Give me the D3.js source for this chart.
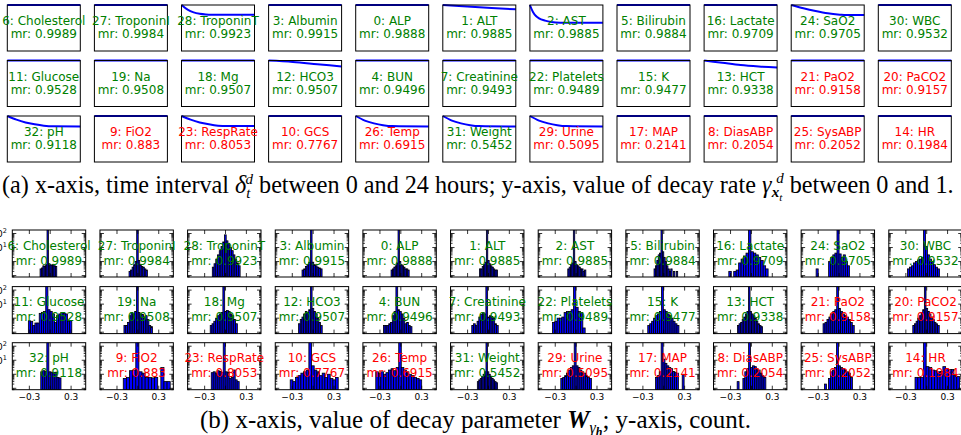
<!DOCTYPE html>
<html>
<head>
<meta charset="utf-8">
<script src="https://cdn.jsdelivr.net/npm/d3@7/dist/d3.min.js"></script>
<style>
  body { margin: 0; background: #fff; }
  svg { display: block; }
</style>
</head>
<body>
<svg id="fig" width="961" height="435"></svg>
<script>
// feature order (same for both halves), mean decay rate "mr"
const features = [
  "6: Cholesterol", "27: TroponinI", "28: TroponinT", "3: Albumin", "0: ALP", "1: ALT",
  "2: AST", "5: Bilirubin", "16: Lactate", "24: SaO2", "30: WBC",
  "11: Glucose", "19: Na", "18: Mg", "12: HCO3", "4: BUN", "7: Creatinine",
  "22: Platelets", "15: K", "13: HCT", "21: PaO2", "20: PaCO2",
  "32: pH", "9: FiO2", "23: RespRate", "10: GCS", "26: Temp", "31: Weight",
  "29: Urine", "17: MAP", "8: DiasABP", "25: SysABP", "14: HR"
];
const meanRate = [
  0.9989, 0.9984, 0.9923, 0.9915, 0.9888, 0.9885, 0.9885, 0.9884, 0.9709, 0.9705, 0.9532,
  0.9528, 0.9508, 0.9507, 0.9507, 0.9496, 0.9493, 0.9489, 0.9477, 0.9338, 0.9158, 0.9157,
  0.9118, 0.883, 0.8053, 0.7767, 0.6915, 0.5452, 0.5095, 0.2141, 0.2054, 0.2052, 0.1984
];
// labels drawn in red
const redFeatures = ["21: PaO2", "20: PaCO2", "9: FiO2", "23: RespRate", "10: GCS", "26: Temp",
  "29: Urine", "17: MAP", "8: DiasABP", "25: SysABP", "14: HR"];

// (a) decay curves: [hours, gamma]
const flat = [[0, 1], [24, 1]];
const decayCurves = [
  flat, flat,
  [[0, 1], [2, 0.9], [4, 0.84], [6, 0.81], [8, 0.795], [10, 0.79], [24, 0.79]],
  flat, flat,
  [[0, 1], [8, 0.97], [16, 0.935], [24, 0.905]],
  [[0, 1], [1, 0.85], [2, 0.76], [3, 0.71], [5, 0.66], [7, 0.63], [10, 0.615], [24, 0.615]],
  flat, flat,
  [[0, 1], [4, 0.93], [8, 0.87], [12, 0.82], [16, 0.79], [18, 0.78], [24, 0.78]],
  flat,
  flat, flat, flat,
  [[0, 1], [8, 0.97], [16, 0.92], [24, 0.87]],
  flat, flat, flat, flat,
  [[0, 1], [6, 0.95], [12, 0.9], [18, 0.87], [24, 0.85]],
  flat, flat,
  [[0, 1], [3, 0.92], [6, 0.86], [9, 0.82], [12, 0.79], [15, 0.775], [24, 0.77]],
  flat,
  [[0, 1], [3, 0.92], [6, 0.86], [9, 0.82], [12, 0.79], [15, 0.78], [24, 0.78]],
  flat,
  [[0, 1], [3, 0.9], [6, 0.84], [9, 0.8], [12, 0.78], [24, 0.77]],
  [[0, 1], [3, 0.9], [6, 0.84], [9, 0.8], [12, 0.78], [24, 0.77]],
  [[0, 1], [3, 0.9], [6, 0.84], [9, 0.8], [12, 0.78], [24, 0.77]],
  flat, flat, flat, flat
];

// (b) histograms of W_gamma_h: bin range and bar heights per feature (log axis)
const histLo = [
  -0.146, -0.127, -0.19, -0.16, -0.14, -0.13, -0.12, -0.14, -0.325, -0.33, -0.277,
  -0.314, -0.2, -0.22, -0.21, -0.25, -0.24, -0.34, -0.23, -0.2, -0.23, -0.2,
  -0.136, -0.21, -0.205, -0.33, -0.36, -0.16, -0.22, -0.12, -0.205, -0.21, -0.168
];
const histHi = [
  0.094, 0.137, 0.21, 0.128, 0.12, 0.13, 0.14, 0.2, 0.24, 0.15, 0.183,
  0.31, 0.21, 0.17, 0.13, 0.16, 0.14, 0.13, 0.218, 0.16, 0.218, 0.18,
  0.155, 0.51, 0.225, 0.36, 0.3, 0.13, 0.22, 0.32, 0.235, 0.25, 0.472
];
const histCounts = [
  [0.3, 0.35, 0.5, 0.45, 0.6, 200, 0.7, 0.6, 0.55, 0.6, 0.5, 0.45],
  [0.2, 0.25, 0.4, 0.6, 1.0, 200, 1.2, 0.6, 0.45, 0.4, 0.3, 0.25],
  [0.4, 0.7, 1.5, 3, 6, 12, 25, 80, 30, 20, 10, 6, 3, 1.5, 0.8, 0.5],
  [0.25, 0.3, 0.45, 0.6, 0.9, 200, 0.9, 0.6, 0.5, 0.4, 0.35, 0.3],
  [0.25, 0.3, 0.4, 0.5, 0.8, 200, 1, 0.6, 0.5, 0.4, 0.3, 0.3, 0.25],
  [0.3, 0.3, 0.45, 0.6, 0.9, 200, 1.2, 0.7, 0.5, 0.4, 0.3, 0.25, 0.25],
  [0.3, 0.4, 0.6, 0.8, 200, 1, 0.6, 0.5, 0.4, 0.3, 0.3, 0.2, 0.25],
  [0.3, 0.5, 1.2, 3, 4, 200, 5, 2, 1, 0.5, 0.3, 0.2, 0.3, 0, 0.2, 0, 0.2],
  [0.2, 0, 0.2, 0.25, 0.8, 1.5, 2.5, 4, 200, 5, 4, 3, 2, 1.2, 0.5, 0.3],
  [0.3, 0, 0, 0, 0, 0, 1, 2, 3, 4, 200, 3.5, 2, 3, 1, 0.5],
  [0.3, 0.4, 0.5, 0.8, 1.0, 1.3, 1.5, 2, 200, 12, 3, 1.5, 1, 0.6, 0.4, 0.3],
  [0.65, 0.6, 0.3, 0.45, 0.45, 2.2, 2.6, 3, 200, 4, 3, 2, 0.5, 1.5, 2, 2.5, 2.2, 2, 0.6, 0.65],
  [0.3, 0.3, 0.5, 1.5, 2.5, 2, 3, 200, 2.5, 2, 1.8, 1.2, 1.5, 0.8, 0.3, 0.25],
  [0.3, 0.4, 0.6, 1, 1.5, 2, 2.5, 200, 3, 3.5, 3, 2, 1.5, 0.8, 0.4],
  [0.4, 0.8, 1.2, 2, 3, 2.5, 4, 200, 5, 3, 2, 1, 0.5, 0.3],
  [0.3, 0.3, 0.3, 0.4, 0.5, 1.5, 3, 200, 4, 3, 2, 1, 0.4, 0.5, 0.3, 0.25],
  [0.3, 0.4, 0.3, 0.6, 1.2, 1.8, 2.5, 2, 200, 1.2, 1.5, 1.3, 1, 0.4, 0.3],
  [0.5, 0.6, 1, 1, 1.2, 2.5, 3, 3, 4, 200, 6, 3, 2.5, 0.2],
  [0.3, 0.4, 0.6, 1, 1.5, 2, 3, 200, 4, 3, 2, 1.5, 1, 0.6, 0.4, 0.3],
  [0.3, 0.4, 0.5, 0.8, 1.2, 2, 3, 200, 3, 2, 1.5, 1, 0.6, 0.4, 0.3, 0.25],
  [0.4, 0.5, 0.8, 1.2, 2, 3, 4, 200, 5, 3, 2, 1.5, 1.2, 0.8, 0.5, 0.3],
  [0.3, 0.4, 0.6, 1, 1.5, 2.5, 4, 200, 5, 3, 2, 1.2, 0.8, 0.5, 0.4, 0.3],
  [1.5, 1.8, 1.6, 200, 1.5, 1.4, 1.3, 1.4, 0.6, 0.55],
  [0.5, 0.6, 1.8, 2, 200, 1.5, 1.2, 0.6, 0.6, 0.55, 0.6, 0, 3, 0.3, 0.3, 0],
  [1.3, 1.5, 1.2, 1.8, 1.6, 1.4, 200, 1.5, 1.4, 0.5, 0.6, 2, 0.4, 0.3, 0],
  [0.4, 0.3, 0.6, 0.8, 1.2, 1.5, 2, 200, 4, 2, 1.5, 0.8, 1.2, 0.6, 1, 0.5, 0.4, 0.6],
  [1.5, 1.2, 1.5, 1.0, 1.3, 2, 2.5, 1.8, 3, 200, 3, 2, 1.5, 1, 0.8, 0.6, 0.5, 0.4],
  [0.3, 0.4, 0.5, 0.7, 1, 1.5, 200, 1.5, 1, 0.7, 0.5, 0.4, 0.3, 0.25],
  [0.5, 0.6, 0.8, 1.2, 2, 3, 4, 200, 4, 3, 2, 1.5, 1.2, 0.8, 0.6, 0.5],
  [0.6, 0.8, 1.5, 200, 12, 6, 4, 3, 2.5, 1.6, 1.4, 1.2, 0, 0, 1.0, 0],
  [0.3, 0, 0, 0.5, 1.5, 2.5, 200, 3, 4, 3.5, 2.5, 2, 1.2, 0.8, 0.6, 0],
  [0.2, 0, 0.5, 1.5, 2, 3, 200, 4, 3, 2.5, 2, 1.5, 1.2, 0.6, 0, 0],
  [0.6, 0.6, 0.6, 200, 3.5, 3, 2, 1.8, 1.5, 1.6, 3.5, 2.5, 2.2, 2.2, 0.8, 0.7]
];
const histTicks = [-0.3, 0.3];
const histTickMarks = [-0.3, 0, 0.3];

const nCols = 11;
const svg = d3.select("#fig");

// ---------- (a) decay curves ----------
const aLeft = 7.3, aStep = 87.1, aW = 73, aH = 46, aTops = [5, 60.5, 116];
const tx = d3.scaleLinear().domain([0, 24]).range([0, aW]);
const ty = d3.scaleLinear().domain([0, 1]).range([aH, 0]);
const curveLine = d3.line().x(d => tx(d[0])).y(d => ty(d[1])).curve(d3.curveMonotoneX);

features.forEach((name, i) => {
  const col = i % nCols, row = Math.floor(i / nCols);
  const g = svg.append("g")
    .attr("transform", `translate(${aLeft + col * aStep},${aTops[row]})`);
  g.append("rect").attr("width", aW).attr("height", aH).attr("fill", "#fff");
  g.append("path").datum(decayCurves[i])
    .attr("d", curveLine)
    .attr("fill", "none").attr("stroke", "#0000ff").attr("stroke-width", 2);
  g.append("rect").attr("width", aW).attr("height", aH)
    .attr("fill", "none").attr("stroke", "#000").attr("stroke-width", 1);
  const color = redFeatures.includes(name) ? "#ff0000" : "#008000";
  const t = g.append("text").attr("text-anchor", "middle")
    .attr("font-family", "DejaVu Sans").attr("font-size", 12).attr("fill", color);
  t.append("tspan").attr("x", aW / 2).attr("y", 20).text(name);
  t.append("tspan").attr("x", aW / 2).attr("y", 33).text("mr: " + meanRate[i]);
});

// ---------- (b) histograms ----------
const bLeft = 12.3, bStep = 87.65, bW = 73.4, bH = 47, bTops = [230, 286.6, 342.7];
const hx = d3.scaleLinear().domain([-0.545, 0.51]).range([0, bW]);
const hy = d3.scaleLog().domain([Math.pow(10, -1.1), Math.pow(10, 2.25)]).range([bH, 0]);
const logMajor = [0.1, 1, 10, 100];
const logMinor = [];
[0.1, 1, 10].forEach(d => { for (let k = 2; k < 10; k++) logMinor.push(d * k); });
logMinor.push(0.09, 0.08);

features.forEach((name, i) => {
  const col = i % nCols, row = Math.floor(i / nCols);
  const g = svg.append("g")
    .attr("transform", `translate(${bLeft + col * bStep},${bTops[row]})`);
  const clipId = "clip" + i;
  g.append("clipPath").attr("id", clipId)
    .append("rect").attr("width", bW).attr("height", bH);

  const counts = histCounts[i];
  const step = (histHi[i] - histLo[i]) / counts.length;
  const bins = counts.map((c, k) => ({ x0: histLo[i] + k * step, x1: histLo[i] + (k + 1) * step, c }));
  g.append("g").attr("clip-path", `url(#${clipId})`)
    .selectAll("rect").data(bins.filter(b => b.c > 0)).join("rect")
    .attr("x", d => hx(d.x0))
    .attr("width", d => hx(d.x1) - hx(d.x0))
    .attr("y", d => hy(d.c))
    .attr("height", d => bH - hy(d.c))
    .attr("fill", "#0000ff").attr("stroke", "#000").attr("stroke-width", 0.8);

  // ticks on all four sides, pointing in
  const tk = g.append("g").attr("stroke", "#000").attr("stroke-width", 0.8);
  logMajor.forEach(v => {
    const y = hy(v);
    tk.append("line").attr("x1", 0).attr("x2", 4).attr("y1", y).attr("y2", y);
    tk.append("line").attr("x1", bW).attr("x2", bW - 4).attr("y1", y).attr("y2", y);
  });
  logMinor.forEach(v => {
    const y = hy(v);
    if (y < 0 || y > bH) return;
    tk.append("line").attr("x1", 0).attr("x2", 2).attr("y1", y).attr("y2", y);
    tk.append("line").attr("x1", bW).attr("x2", bW - 2).attr("y1", y).attr("y2", y);
  });
  histTickMarks.forEach(v => {
    const x = hx(v);
    tk.append("line").attr("x1", x).attr("x2", x).attr("y1", 0).attr("y2", 4);
    tk.append("line").attr("x1", x).attr("x2", x).attr("y1", bH).attr("y2", bH - 4);
  });

  g.append("rect").attr("width", bW).attr("height", bH)
    .attr("fill", "none").attr("stroke", "#000").attr("stroke-width", 1);

  const color = redFeatures.includes(name) ? "#ff0000" : "#008000";
  const t = g.append("text").attr("text-anchor", "middle")
    .attr("font-family", "DejaVu Sans").attr("font-size", 12).attr("fill", color);
  t.append("tspan").attr("x", bW / 2).attr("y", 19.5).text(name);
  t.append("tspan").attr("x", bW / 2).attr("y", 34.5).text("mr: " + meanRate[i]);

  if (col === 0) {
    [100, 10].forEach((v, k) => {
      const lt = g.append("text").attr("text-anchor", "end")
        .attr("font-family", "DejaVu Sans").attr("font-size", 9)
        .attr("x", -5.5).attr("y", hy(v) + 3.5);
      lt.append("tspan").text("10");
      lt.append("tspan").attr("dy", -4).attr("font-size", 6.5).text(k === 0 ? "2" : "1");
    });
  }
  if (row === 2) {
    histTicks.forEach(v => {
      g.append("text").attr("text-anchor", "middle")
        .attr("font-family", "DejaVu Sans").attr("font-size", 9)
        .attr("x", hx(v)).attr("y", bH + 10.5)
        .text(d3.format(".1f")(v).replace("-", "\u2212"));
    });
  }
});

// ---------- captions ----------
const capA = svg.append("text").attr("font-family", "Liberation Serif")
  .attr("font-size", 24.2).attr("x", 2).attr("y", 193).attr("fill", "#000");
capA.append("tspan").text("(a) x-axis, time interval ");
capA.append("tspan").attr("font-style", "italic").text("\u03b4");
capA.append("tspan").attr("font-style", "italic").attr("font-size", 15).attr("dy", 5).text("t");
capA.append("tspan").attr("font-style", "italic").attr("font-size", 15).attr("dx", -5).attr("dy", -14).text("d");
capA.append("tspan").attr("dy", 9).text(" between 0 and 24 hours; y-axis, value of decay rate ");
capA.append("tspan").attr("font-style", "italic").text("\u03b3");
capA.append("tspan").attr("font-style", "italic").attr("font-weight", "bold").attr("font-size", 15).attr("dy", 4).text("x");
capA.append("tspan").attr("font-style", "italic").attr("font-size", 11).attr("dy", 4).text("t");
capA.append("tspan").attr("font-style", "italic").attr("font-size", 15).attr("dx", -6).attr("dy", -18).text("d");
capA.append("tspan").attr("dy", 10).text(" between 0 and 1.");

const capB = svg.append("text").attr("font-family", "Liberation Serif")
  .attr("font-size", 25).attr("x", 200).attr("y", 428).attr("fill", "#000");
capB.append("tspan").text("(b) x-axis, value of decay parameter ");
capB.append("tspan").attr("font-style", "italic").attr("font-weight", "bold").text("W");
capB.append("tspan").attr("font-style", "italic").attr("font-size", 16).attr("dy", 5).text("\u03b3");
capB.append("tspan").attr("font-style", "italic").attr("font-weight", "bold").attr("font-size", 12).attr("dy", 3).text("h");
capB.append("tspan").attr("dy", -8).text("; y-axis, count.");
</script>
</body>
</html>
